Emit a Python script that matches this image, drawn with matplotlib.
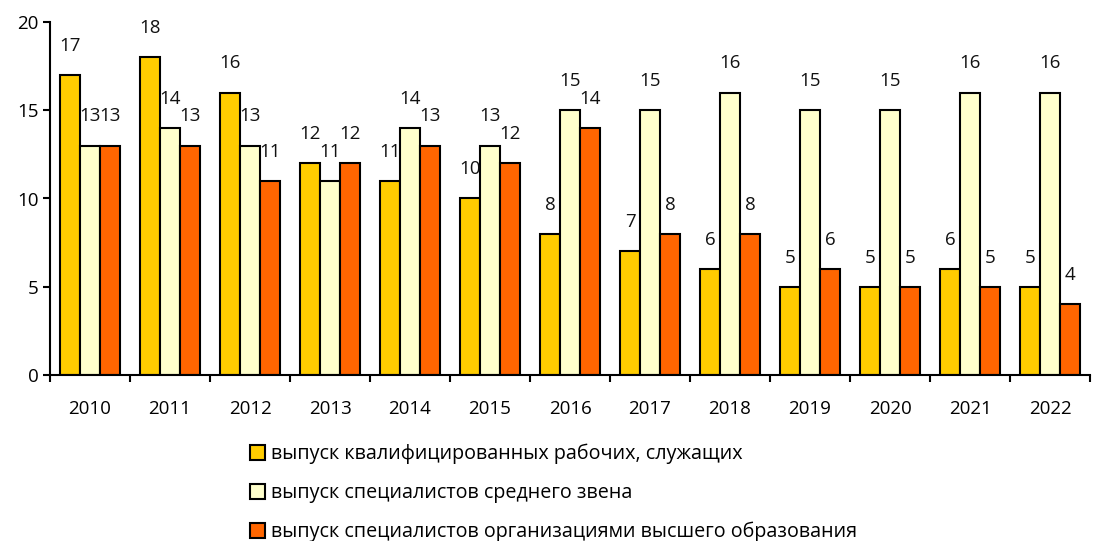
import numpy as np
import matplotlib.pyplot as plt
from matplotlib.patches import Patch

plt.rcParams["font.family"] = ["Open Sans", "DejaVu Sans"]

YEARS = ["2010", "2011", "2012", "2013", "2014", "2015", "2016",
         "2017", "2018", "2019", "2020", "2021", "2022"]
WORKERS = [17, 18, 16, 12, 11, 10, 8, 7, 6, 5, 5, 6, 5]
MIDDLE = [13, 14, 13, 11, 14, 13, 15, 15, 16, 15, 15, 16, 16]
HIGHER = [13, 13, 11, 12, 13, 12, 14, 8, 8, 6, 5, 5, 4]
LABELS = [
    "выпуск квалифицированных рабочих, служащих",
    "выпуск специалистов среднего звена",
    "выпуск специалистов организациями высшего образования",
]
COLORS = ["#FFCC00", "#FFFFCC", "#FF6600"]
FS = 13.5

fig = plt.figure(figsize=(10.99, 5.41), dpi=100)
ax = fig.add_axes([50 / 1099, 1 - 375 / 541, 1040 / 1099, 353 / 541])

x = np.arange(len(YEARS))
w = 0.25
for i, (vals, col) in enumerate(zip([WORKERS, MIDDLE, HIGHER], COLORS)):
    pos = x + (i - 1) * w
    ax.bar(pos, vals, width=w, color=col, edgecolor="black", linewidth=1.5)
    for px, v in zip(pos, vals):
        ax.annotate(str(v), (px, v), xytext=(0, 21), textcoords="offset points",
                    ha="center", va="center", fontsize=FS, color="#111111")

ax.set_xlim(-0.5, len(YEARS) - 0.5)
ax.set_ylim(0, 20)
ax.set_yticks([0, 5, 10, 15, 20])
ax.set_xticks(x)
ax.set_xticklabels(YEARS)
ax.set_xticks(np.arange(-0.5, len(YEARS)), minor=True)
ax.tick_params(axis="x", which="major", length=0, pad=18, labelsize=FS)
ax.tick_params(axis="x", which="minor", length=5, width=1.5)
ax.tick_params(axis="y", length=5, width=1.5, pad=3, labelsize=FS)
for s in ["top", "right"]:
    ax.spines[s].set_visible(False)
for s in ["left", "bottom"]:
    ax.spines[s].set_linewidth(1.5)

handles = [Patch(facecolor=c, edgecolor="black", linewidth=1.5) for c in COLORS]
fig.legend(handles, LABELS, loc="upper left", bbox_to_anchor=(250 / 1099, 1 - 444 / 541),
           frameon=False, fontsize=14.2, handlelength=0.75, handleheight=0.75,
           handletextpad=0.3, labelspacing=0.95, borderpad=0, borderaxespad=0)

fig.savefig("out.png", dpi=100)
